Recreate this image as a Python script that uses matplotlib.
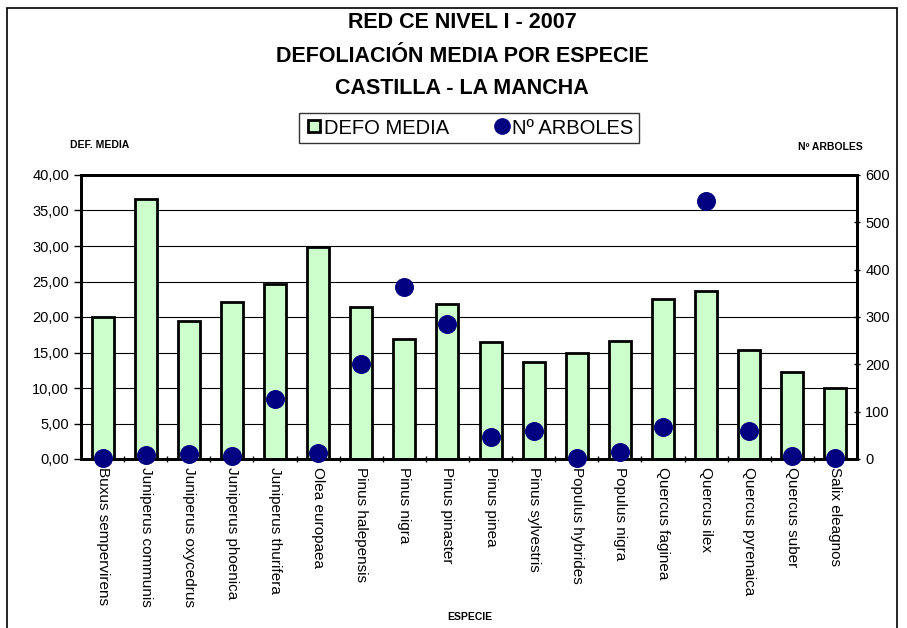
import numpy as np
import matplotlib.pyplot as plt
from matplotlib.lines import Line2D
from matplotlib.patches import Rectangle
from matplotlib.ticker import FuncFormatter, MultipleLocator

plt.rcParams["font.family"] = ["Liberation Sans", "DejaVu Sans"]

especies = [
    "Buxus sempervirens", "Juniperus communis", "Juniperus oxycedrus",
    "Juniperus phoenica", "Juniperus thurifera", "Olea europaea",
    "Pinus halepensis", "Pinus nigra", "Pinus pinaster", "Pinus pinea",
    "Pinus sylvestris", "Populus hybrides", "Populus nigra",
    "Quercus faginea", "Quercus ilex", "Quercus pyrenaica",
    "Quercus suber", "Salix eleagnos",
]
defo_media = [20.0, 36.6, 19.4, 22.1, 24.7, 29.9, 21.4, 16.9, 21.9, 16.5,
              13.7, 15.0, 16.6, 22.5, 23.7, 15.4, 12.2, 10.0]
n_arboles = [2, 8, 10, 7, 126, 13, 201, 363, 285, 46,
             60, 2, 15, 68, 545, 60, 7, 2]

W, H = 907, 628
fig = plt.figure(figsize=(W / 100, H / 100), dpi=100)

# outer frame of the chart
fig.patches.append(Rectangle((7 / W, -0.05), 890 / W, 1.05 - 8 / H,
                             transform=fig.transFigure, fill=False,
                             edgecolor="black", lw=1.2))

x0, x1, y0, y1 = 81, 857, 175, 459
ax = fig.add_axes([x0 / W, (H - y1) / H, (x1 - x0) / W, (y1 - y0) / H])
x = np.arange(len(especies))

ax.bar(x, defo_media, width=0.51, color="#CCFFCC", edgecolor="black",
       lw=2, zorder=2)
ax.set_xlim(-0.5, len(especies) - 0.5)
ax.set_ylim(0, 40)
ax.yaxis.set_major_locator(MultipleLocator(5))
ax.yaxis.set_major_formatter(FuncFormatter(lambda v, p: f"{v:.2f}".replace(".", ",")))
ax.grid(axis="y", color="black", lw=0.8, zorder=0)
ax.set_axisbelow(True)

ax.set_xticks(x)
ax.set_xticklabels(especies, rotation=-90, fontsize=11, va="top", ha="center")
ax.set_xticks(x[:-1] + 0.5, minor=True)
ax.tick_params(axis="x", which="major", length=0, pad=6)
ax.tick_params(axis="x", which="minor", length=5, width=1, direction="inout")
ax.tick_params(axis="y", labelsize=10.5, length=5, width=1, direction="out")
for s in ax.spines.values():
    s.set_linewidth(2)

ax2 = ax.twinx()
ax2.scatter(x, n_arboles, s=160, color="#000080", zorder=5, clip_on=False)
ax2.set_ylim(0, 600)
ax2.yaxis.set_major_locator(MultipleLocator(100))
ax2.tick_params(axis="y", labelsize=10.5, length=5, width=1, direction="inout")
for s in ax2.spines.values():
    s.set_linewidth(2)

fig.text(462 / W, 1 - 56 / H, "RED CE NIVEL I - 2007\nDEFOLIACIÓN MEDIA POR ESPECIE\nCASTILLA - LA MANCHA",
         ha="center", va="center", fontsize=15.5, fontweight="bold", linespacing=1.75)
fig.text(100 / W, 1 - 145 / H, "DEF. MEDIA", ha="center", va="center",
         fontsize=7.5, fontweight="bold")
fig.text(830 / W, 1 - 147 / H, "Nº ARBOLES", ha="center", va="center",
         fontsize=7.5, fontweight="bold")
fig.text(470 / W, 1 - 617 / H, "ESPECIE", ha="center", va="center",
         fontsize=7.5, fontweight="bold")

handles = [
    Line2D([], [], marker="s", ls="none", markersize=8, markerfacecolor="#CCFFCC",
           markeredgecolor="black", markeredgewidth=2),
    Line2D([], [], marker="o", ls="none", markersize=11, color="#000080"),
]
leg = fig.legend(handles, ["DEFO MEDIA", "Nº ARBOLES"], ncol=2, loc="center",
                 bbox_to_anchor=(469 / W, 1 - 128 / H), fontsize=14.5, frameon=True,
                 fancybox=False, edgecolor="black", handletextpad=0.05,
                 handlelength=0.9, columnspacing=2.2, borderpad=0.25,
                 borderaxespad=0)
leg.get_frame().set_linewidth(1)

fig.savefig("out.png", dpi=100)
